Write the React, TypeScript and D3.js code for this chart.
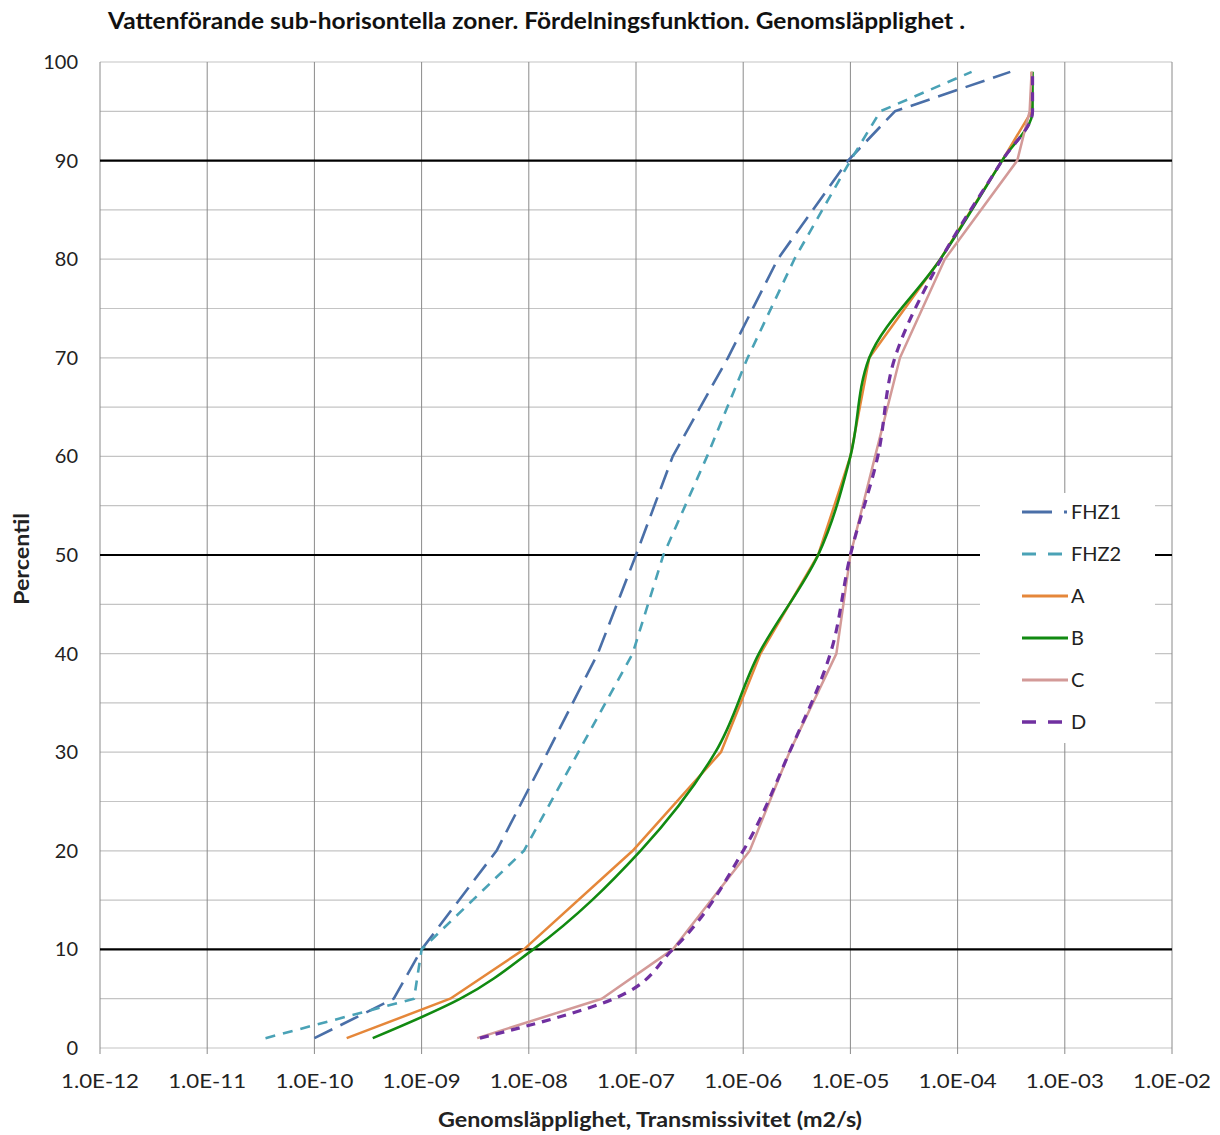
import React from "react";
import * as d3 from "d3";

const title = "Vattenförande sub-horisontella zoner. Fördelningsfunktion. Genomsläpplighet .";
const xTitle = "Genomsläpplighet, Transmissivitet (m2/s)";
const yTitle = "Percentil";

const xTicks = [1e-12, 1e-11, 1e-10, 1e-9, 1e-8, 1e-7, 1e-6, 1e-5, 1e-4, 1e-3, 1e-2];
const yTicks = [0, 10, 20, 30, 40, 50, 60, 70, 80, 90, 100];
const blackLines = [10, 50, 90];

const percentiles = [1, 5, 10, 20, 30, 40, 50, 60, 70, 80, 90, 95, 99];

const fhz1 = [1e-10, 5.5e-10, 1e-9, 5e-9, 1.5e-8, 4.4e-8, 1e-7, 2.2e-7, 7.2e-7, 2.1e-6, 9.5e-6, 2.6e-5, 3.1e-4];
const fhz2 = [3.5e-11, 8.5e-10, 1e-9, 9e-9, 2.9e-8, 9.3e-8, 1.8e-7, 4.6e-7, 1.1e-6, 3e-6, 1e-5, 1.9e-5, 1.35e-4];
const seriesA = [2e-10, 1.85e-9, 9e-9, 9.3e-8, 6.2e-7, 1.45e-6, 5e-6, 1e-5, 1.5e-5, 6.9e-5, 2.6e-4, 4.9e-4, 4.9e-4];
const seriesB = [3.5e-10, 2.3e-9, 1.1e-8, 1.1e-7, 5.5e-7, 1.4e-6, 5e-6, 1e-5, 1.5e-5, 6.9e-5, 2.6e-4, 5e-4, 5e-4];
const seriesC = [3.3e-9, 4.8e-8, 2.2e-7, 1.15e-6, 2.7e-6, 7.4e-6, 1e-5, 1.7e-5, 2.9e-5, 7.6e-5, 3.6e-4, 4.7e-4, 4.9e-4];
const seriesD = [3.5e-9, 6.2e-8, 2.2e-7, 1e-6, 2.7e-6, 6.5e-6, 1e-5, 1.8e-5, 2.6e-5, 7e-5, 2.6e-4, 5e-4, 5e-4];

const series = [
  { name: "FHZ1", values: fhz1, color: "#4a6fa8", width: 2.6, dash: "20,9", legendDash: "30,12,3,10", smooth: false },
  { name: "FHZ2", values: fhz2, color: "#4aa2b6", width: 2.6, dash: "10,8", legendDash: "14,12", smooth: false },
  { name: "A", values: seriesA, color: "#e5873a", width: 2.5, dash: null, legendDash: null, smooth: false },
  { name: "B", values: seriesB, color: "#118a11", width: 2.6, dash: null, legendDash: null, smooth: true },
  { name: "C", values: seriesC, color: "#d39a98", width: 2.5, dash: null, legendDash: null, smooth: false },
  { name: "D", values: seriesD, color: "#7030a0", width: 3.2, dash: "9,7", legendDash: "14,12", smooth: true },
];

const font = "Lato, 'Open Sans', sans-serif";

export default function App() {
  const width = 1220;
  const height = 1135;
  const left = 100, right = 1172, top = 62, bottom = 1048;

  const x = d3.scaleLog().domain([1e-12, 1e-2]).range([left, right]);
  const y = d3.scaleLinear().domain([0, 100]).range([bottom, top]);

  const line = (smooth: boolean) =>
    d3
      .line<[number, number]>()
      .x((d) => x(d[0]))
      .y((d) => y(d[1]))
      .curve(smooth ? d3.curveMonotoneY : d3.curveLinear);

  const minorY = d3.range(0, 101, 5).filter((v) => !blackLines.includes(v));

  // legend box
  const lg = { x0: 980, x1: 1155, y0: 493, y1: 743 };
  const legendY = d3.scalePoint<string>().domain(series.map((s) => s.name)).range([512, 722]);

  return (
    <svg
      width={width}
      height={height}
      style={{ display: "block", background: "#fff", position: "absolute", left: 0, top: 0 }}
      fontFamily={font}
    >
      <text x={108} y={29} fontSize={22} fontWeight="bold" fill="#111" textLength={857} lengthAdjust="spacingAndGlyphs">
        {title}
      </text>

      {/* gridlines */}
      {minorY.map((v) => (
        <line key={"h" + v} x1={left} x2={right} y1={y(v)} y2={y(v)} stroke="#c4c4c4" strokeWidth={1.2} />
      ))}
      {xTicks.map((v) => (
        <line key={"v" + v} x1={x(v)} x2={x(v)} y1={top} y2={bottom + 6} stroke="#8a8a8a" strokeWidth={1} />
      ))}
      {blackLines.map((v) => (
        <line key={"b" + v} x1={left} x2={right} y1={y(v)} y2={y(v)} stroke="#000" strokeWidth={2.2} />
      ))}

      {/* axis labels */}
      {yTicks.map((v) => (
        <text key={"yl" + v} x={78} y={y(v) + 7} textAnchor="end" fontSize={20} fill="#222">
          {v}
        </text>
      ))}
      {xTicks.map((v) => (
        <text key={"xl" + v} x={x(v)} y={1088} textAnchor="middle" fontSize={19} fill="#222" textLength={78} lengthAdjust="spacingAndGlyphs">
          {"1.0E-" + String(-Math.round(Math.log10(v))).padStart(2, "0")}
        </text>
      ))}
      <text x={650} y={1127} textAnchor="middle" fontSize={20} fontWeight="bold" fill="#222" textLength={424} lengthAdjust="spacingAndGlyphs">
        {xTitle}
      </text>
      <text
        transform={`translate(29, 559) rotate(-90)`}
        textAnchor="middle"
        fontSize={20}
        fontWeight="bold"
        fill="#222"
        textLength={92}
        lengthAdjust="spacingAndGlyphs"
      >
        {yTitle}
      </text>

      {/* series */}
      {series.map((s) => (
        <path
          key={s.name}
          d={line(s.smooth)(s.values.map((v, i) => [v, percentiles[i]] as [number, number])) || ""}
          fill="none"
          stroke={s.color}
          strokeWidth={s.width}
          strokeDasharray={s.dash || undefined}
          strokeLinejoin="round"
        />
      ))}

      {/* legend */}
      <rect x={lg.x0} y={lg.y0} width={lg.x1 - lg.x0} height={lg.y1 - lg.y0} fill="#fff" />
      {series.map((s) => (
        <g key={"lg" + s.name}>
          <line
            x1={1022}
            x2={1068}
            y1={legendY(s.name)}
            y2={legendY(s.name)}
            stroke={s.color}
            strokeWidth={s.width + 0.5}
            strokeDasharray={s.legendDash || undefined}
          />
          <text x={1071} y={(legendY(s.name) || 0) + 7} fontSize={20} fill="#222">
            {s.name}
          </text>
        </g>
      ))}
    </svg>
  );
}
